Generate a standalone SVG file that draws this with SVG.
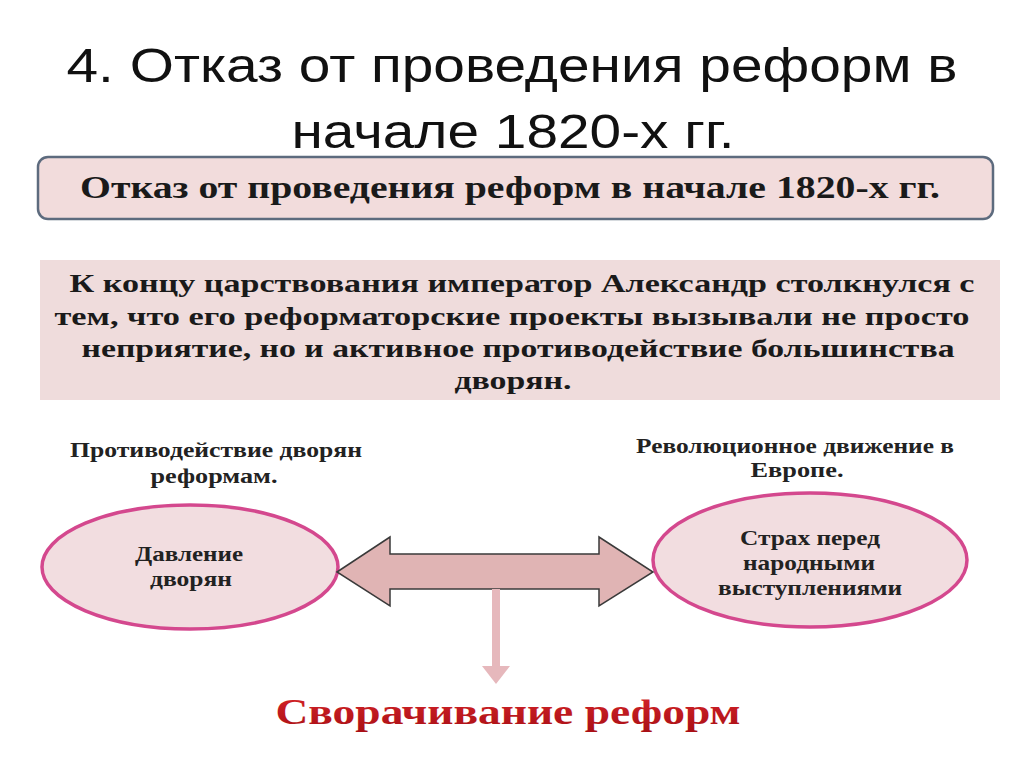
<svg xmlns="http://www.w3.org/2000/svg" width="1024" height="767" viewBox="0 0 1024 767">
<defs>
<style>
.title{font-family:"Liberation Sans",Arial,sans-serif;font-size:48px;fill:#111;text-anchor:middle}
.bx{font-family:"Liberation Serif","Times New Roman",serif;font-weight:bold;fill:#1a1a1a;text-anchor:middle}
.lbl{font-family:"Liberation Serif","Times New Roman",serif;font-weight:bold;font-size:21px;fill:#222;text-anchor:middle}
.ell{fill:#f2dde0;stroke:#d4488e;stroke-width:3.5}
.red{font-family:"Liberation Serif","Times New Roman",serif;font-weight:bold;font-size:36px;text-anchor:middle}
</style>
<linearGradient id="redg" x1="0" y1="0" x2="0" y2="1">
<stop offset="0" stop-color="#d8242a"/>
<stop offset="1" stop-color="#a80f16"/>
</linearGradient>
</defs>
<rect width="1024" height="767" fill="#ffffff"/>
<g id="title">
<text class="title" x="512" y="82" textLength="891" lengthAdjust="spacingAndGlyphs">4. Отказ от проведения реформ в</text>
<text class="title" x="513" y="148" textLength="443" lengthAdjust="spacingAndGlyphs">начале 1820-х гг.</text>
</g>
<g id="box-header">
<rect x="38" y="157" width="955" height="62" rx="10" fill="#f2dcdc" stroke="#5d6b7e" stroke-width="2.5"/>
<text class="bx" x="510" y="198" font-size="32" textLength="860" lengthAdjust="spacingAndGlyphs">Отказ от проведения реформ в начале 1820-х гг.</text>
</g>
<g id="box-text">
<rect x="40" y="260" width="960" height="140" fill="#efdcdc"/>
<text class="bx" font-size="26" x="522" y="292" textLength="905" lengthAdjust="spacingAndGlyphs">К концу царствования император Александр столкнулся с</text>
<text class="bx" font-size="26" x="512" y="325" textLength="915" lengthAdjust="spacingAndGlyphs">тем, что его реформаторские проекты вызывали не просто</text>
<text class="bx" font-size="26" x="518" y="357" textLength="873" lengthAdjust="spacingAndGlyphs">неприятие, но и активное противодействие большинства</text>
<text class="bx" font-size="26" x="513" y="389" textLength="117" lengthAdjust="spacingAndGlyphs">дворян.</text>
</g>
<g id="label-left">
<text class="lbl" x="216" y="457" textLength="292" lengthAdjust="spacingAndGlyphs">Противодействие дворян</text>
<text class="lbl" x="214" y="483" textLength="127" lengthAdjust="spacingAndGlyphs">реформам.</text>
</g>
<g id="label-right">
<text class="lbl" x="795" y="453" textLength="318" lengthAdjust="spacingAndGlyphs">Революционное движение в</text>
<text class="lbl" x="797" y="477" textLength="93" lengthAdjust="spacingAndGlyphs">Европе.</text>
</g>
<g id="node-left">
<ellipse class="ell" cx="190" cy="567" rx="148" ry="62"/>
<text class="lbl" x="189" y="561" textLength="108" lengthAdjust="spacingAndGlyphs">Давление</text>
<text class="lbl" x="191" y="586" textLength="82" lengthAdjust="spacingAndGlyphs">дворян</text>
</g>
<g id="node-right">
<ellipse class="ell" cx="810" cy="560" rx="157" ry="67"/>
<text class="lbl" x="810" y="545" textLength="140" lengthAdjust="spacingAndGlyphs">Страх перед</text>
<text class="lbl" x="809" y="570" textLength="132" lengthAdjust="spacingAndGlyphs">народными</text>
<text class="lbl" x="810" y="595" textLength="184" lengthAdjust="spacingAndGlyphs">выступлениями</text>
</g>
<g id="connectors">
<path d="M337,572 L390,537 L390,554 L599,554 L599,537 L653,572 L599,606 L599,589 L390,589 L390,606 Z" fill="#e0b4b4" stroke="#3a3a3a" stroke-width="1.5" stroke-linejoin="miter"/>
<rect x="492" y="589" width="8" height="77" fill="#e6b8bc"/>
<path d="M482,666 L510,666 L496,684 Z" fill="#e6b8bc"/>
</g>
<g id="result">
<text class="red" x="508" y="724" style="fill:url(#redg)" textLength="465" lengthAdjust="spacingAndGlyphs">Сворачивание реформ</text>
</g>
</svg>
